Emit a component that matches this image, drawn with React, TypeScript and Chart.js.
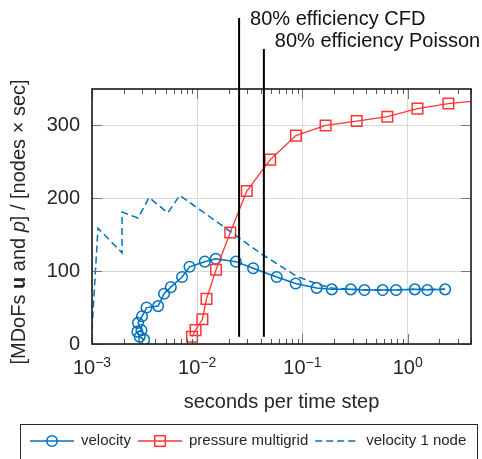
import React, { useEffect, useRef } from 'react';
import { Chart, registerables } from 'chart.js';

Chart.register(...registerables);

const FONT = '"Liberation Sans", Arial, Helvetica, sans-serif';

// ---- data ----
const seriesNames = ['velocity', 'pressure multigrid', 'velocity 1 node'];

const velocityX = [0.00313, 0.00284, 0.0027, 0.00295, 0.00274, 0.00299, 0.0033, 0.00425, 0.00484, 0.00561, 0.00718, 0.00845, 0.0118, 0.015, 0.0233, 0.034, 0.0569, 0.0862, 0.1365, 0.19, 0.288, 0.388, 0.579, 0.776, 1.17, 1.54, 2.27];
const velocityY = [6, 10, 17, 19, 29, 38, 50, 52, 69, 78, 92, 106, 113, 117, 113, 104, 92, 83, 77, 75, 75, 74, 74, 74, 75, 74, 75];

const pressureX = [0.00893, 0.00964, 0.0112, 0.01225, 0.0151, 0.0206, 0.0296, 0.0494, 0.0867, 0.166, 0.328, 0.641, 1.24, 2.44, 5.5];
const pressureY = [10, 19, 34, 62, 102, 153, 210, 253, 286, 300, 306, 312, 323, 330, 335];

const node1X = [0.001, 0.00114, 0.00193, 0.00193, 0.00274, 0.00349, 0.00525, 0.00682, 0.0204, 0.0394, 0.0881, 0.147, 0.19, 0.288, 0.579, 1.17, 2.27];
const node1Y = [20, 159, 125, 181, 173, 201, 180, 204, 155, 125, 93, 81, 77, 75, 74, 75, 75];

const xTickValues = [0.001, 0.01, 0.1, 1];
const xTickBase = '10';
const xTickExponents = ['\u22123', '\u22122', '\u22121', '0'];
const yTickValues = [0, 100, 200, 300];

const xTitle = 'seconds per time step';
const yTitleParts: [string, string][] = [
  ['[MDoFs ', ''],
  ['u', 'bold '],
  [' and ', ''],
  ['p', 'italic '],
  ['] / [nodes \u00d7 sec]', ''],
];

const efficiencyX = [0.025, 0.043];
const efficiencyLabels = ['80% efficiency CFD', '80% efficiency Poisson'];
const efficiencyBottom = 10;

const BLUE = '#0072BD';
const RED = '#ff3535';
const INK = '#262626';

const pts = (xs: number[], ys: number[]) => xs.map((x, i) => ({ x, y: ys[i] }));

function drawMarker(ctx: CanvasRenderingContext2D, style: string, x: number, y: number, color: string) {
  ctx.save();
  ctx.strokeStyle = color;
  ctx.lineWidth = 1.5;
  ctx.setLineDash([]);
  if (style === 'circle') {
    ctx.beginPath();
    ctx.arc(x, y, 5.3, 0, Math.PI * 2);
    ctx.stroke();
  } else if (style === 'rect') {
    ctx.strokeRect(x - 5.3, y - 5.3, 10.6, 10.6);
  }
  ctx.restore();
}

const decorPlugin = {
  id: 'decor',
  afterDatasetsDraw(chart: any) {
    const { ctx, chartArea: a, scales } = chart;
    const x = scales.x;
    const y = scales.y;
    ctx.save();
    // minor x ticks
    ctx.strokeStyle = '#555';
    ctx.lineWidth = 1;
    for (let d = -3; d <= 0; d++) {
      for (let m = 2; m <= 9; m++) {
        const v = m * Math.pow(10, d);
        if (v > x.max) continue;
        const px = Math.round(x.getPixelForValue(v)) + 0.5;
        ctx.beginPath();
        ctx.moveTo(px, a.bottom);
        ctx.lineTo(px, a.bottom - 5);
        ctx.moveTo(px, a.top);
        ctx.lineTo(px, a.top + 5);
        ctx.stroke();
      }
    }
    // major ticks
    ctx.strokeStyle = '#777';
    xTickValues.forEach((v) => {
      const px = Math.round(x.getPixelForValue(v)) + 0.5;
      ctx.beginPath();
      ctx.moveTo(px, a.bottom);
      ctx.lineTo(px, a.bottom - 10);
      ctx.moveTo(px, a.top);
      ctx.lineTo(px, a.top + 10);
      ctx.stroke();
    });
    yTickValues.forEach((v) => {
      const py = Math.round(y.getPixelForValue(v)) + 0.5;
      ctx.beginPath();
      ctx.moveTo(a.left, py);
      ctx.lineTo(a.left + 10, py);
      ctx.moveTo(a.right, py);
      ctx.lineTo(a.right - 10, py);
      ctx.stroke();
    });
    // frame
    ctx.strokeStyle = '#1a1a1a';
    ctx.lineWidth = 1.6;
    ctx.strokeRect(a.left, a.top, a.right - a.left, a.bottom - a.top);

    // efficiency lines + labels
    const tops = [18, 49];
    const baselines = [25, 46.5];
    ctx.strokeStyle = '#000';
    ctx.lineWidth = 2;
    ctx.fillStyle = '#111';
    ctx.font = `20px ${FONT}`;
    ctx.textAlign = 'left';
    ctx.textBaseline = 'alphabetic';
    efficiencyX.forEach((v, i) => {
      const px = x.getPixelForValue(v);
      ctx.beginPath();
      ctx.moveTo(px, y.getPixelForValue(efficiencyBottom));
      ctx.lineTo(px, tops[i]);
      ctx.stroke();
      ctx.fillText(efficiencyLabels[i], px + 11, baselines[i]);
    });
    ctx.restore();
  },
  afterDraw(chart: any) {
    const { ctx, chartArea: a, scales } = chart;
    const x = scales.x;
    ctx.save();
    ctx.fillStyle = INK;
    // x tick labels with superscript exponents
    xTickValues.forEach((v, i) => {
      const px = x.getPixelForValue(v);
      ctx.font = `20px ${FONT}`;
      const w1 = ctx.measureText(xTickBase).width;
      ctx.font = `14px ${FONT}`;
      const w2 = ctx.measureText(xTickExponents[i]).width;
      const start = px - (w1 + w2) / 2;
      ctx.textAlign = 'left';
      ctx.textBaseline = 'alphabetic';
      ctx.font = `20px ${FONT}`;
      ctx.fillText(xTickBase, start, a.bottom + 30);
      ctx.font = `14px ${FONT}`;
      ctx.fillText(xTickExponents[i], start + w1, a.bottom + 22.5);
    });

    // y title with mixed styles
    ctx.save();
    ctx.translate(19, 222);
    ctx.rotate(-Math.PI / 2);
    ctx.textBaseline = 'middle';
    ctx.textAlign = 'left';
    let total = 0;
    yTitleParts.forEach(([t, s]) => {
      ctx.font = `${s}20px ${FONT}`;
      total += ctx.measureText(t).width;
    });
    let cx = -total / 2;
    yTitleParts.forEach(([t, s]) => {
      ctx.font = `${s}20px ${FONT}`;
      ctx.fillText(t, cx, 0);
      cx += ctx.measureText(t).width;
    });
    ctx.restore();

    // legend
    const ly = 441;
    ctx.strokeStyle = INK;
    ctx.lineWidth = 1;
    ctx.strokeRect(20.5, 424.5, 457, 60);
    ctx.font = `15px ${FONT}`;
    ctx.textBaseline = 'middle';
    ctx.textAlign = 'left';
    let lx = 30;
    chart.data.datasets.forEach((ds: any) => {
      const sw = 44;
      ctx.save();
      ctx.strokeStyle = ds.borderColor;
      ctx.lineWidth = ds.borderWidth;
      ctx.setLineDash(ds.borderDash || []);
      ctx.beginPath();
      ctx.moveTo(lx, ly);
      ctx.lineTo(lx + sw, ly);
      ctx.stroke();
      ctx.restore();
      if (ds.pointRadius > 0) drawMarker(ctx, ds.pointStyle, lx + sw / 2, ly, ds.borderColor);
      ctx.fillStyle = INK;
      ctx.fillText(ds.label, lx + sw + 7, ly);
      lx += sw + 7 + ctx.measureText(ds.label).width + 7;
    });
    ctx.restore();
  },
};

export default function App() {
  const ref = useRef<HTMLCanvasElement>(null);
  useEffect(() => {
    const chart = new Chart(ref.current as HTMLCanvasElement, {
      type: 'scatter',
      data: {
        datasets: [
          {
            label: seriesNames[0],
            data: pts(velocityX, velocityY),
            showLine: true,
            borderColor: BLUE,
            backgroundColor: 'rgba(0,0,0,0)',
            borderWidth: 1.5,
            pointStyle: 'circle',
            pointRadius: 5.3,
            pointBorderWidth: 1.5,
            pointBackgroundColor: 'rgba(0,0,0,0)',
            order: 2,
          },
          {
            label: seriesNames[1],
            data: pts(pressureX, pressureY),
            showLine: true,
            borderColor: RED,
            backgroundColor: 'rgba(0,0,0,0)',
            borderWidth: 1.3,
            pointStyle: 'rect',
            pointRadius: 7.5,
            pointBorderWidth: 1.5,
            pointBackgroundColor: 'rgba(0,0,0,0)',
            order: 1,
          },
          {
            label: seriesNames[2],
            data: pts(node1X, node1Y),
            showLine: true,
            borderColor: BLUE,
            backgroundColor: 'rgba(0,0,0,0)',
            borderWidth: 1.5,
            borderDash: [7, 4],
            pointRadius: 0,
            order: 0,
          },
        ] as any,
      },
      options: {
        animation: false,
        responsive: false,
        maintainAspectRatio: false,
        layout: { padding: { top: 89, right: 11, left: 0, bottom: 0 } },
        plugins: { legend: { display: false }, tooltip: { enabled: false } },
        scales: {
          x: {
            type: 'logarithmic',
            min: 0.001,
            max: 4,
            afterBuildTicks: (s: any) => {
              s.ticks = xTickValues.map((v) => ({ value: v }));
            },
            afterFit: (s: any) => {
              s.height = 115;
            },
            ticks: { display: false },
            grid: { color: '#d9d9d9', lineWidth: 1, drawTicks: false },
            border: { display: false },
            title: {
              display: true,
              text: xTitle,
              color: INK,
              font: { family: FONT, size: 20 },
              padding: { top: 0, bottom: 45 },
            },
          },
          y: {
            type: 'linear',
            min: 0,
            max: 350,
            afterBuildTicks: (s: any) => {
              s.ticks = yTickValues.map((v) => ({ value: v }));
            },
            afterFit: (s: any) => {
              s.width = 92;
            },
            ticks: { color: INK, font: { family: FONT, size: 20 }, padding: 12 },
            grid: { color: '#d9d9d9', lineWidth: 1, drawTicks: false },
            border: { display: false },
          },
        },
      } as any,
      plugins: [decorPlugin],
    });
    return () => chart.destroy();
  }, []);
  return (
    <div style={{ position: 'absolute', left: 0, top: 0, width: 482, height: 459, background: '#fff' }}>
      <canvas ref={ref} width={482} height={459} style={{ display: 'block' }} />
    </div>
  );
}
